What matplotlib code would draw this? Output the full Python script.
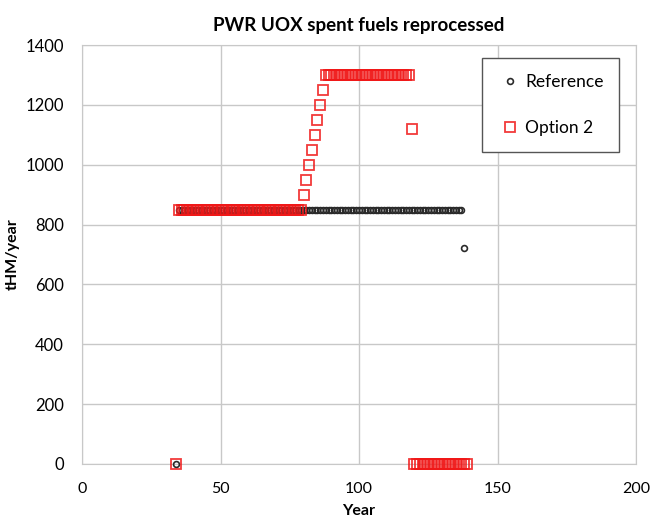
import matplotlib
matplotlib.use("Agg")
import matplotlib.pyplot as plt

plt.rcParams['font.family'] = ['Lato', 'DejaVu Sans']

# Reference scenario (tHM/year)
ref_years = list(range(34, 139))
ref_values = [0] + [850] * 103 + [722]

# Option 2 scenario (tHM/year)
opt_years = list(range(34, 140))
opt_values = ([0] + [850] * 45
              + [900, 950, 1000, 1050, 1100, 1150, 1200, 1250]
              + [1300] * 31 + [1120] + [0] * 20)

x_ticks = [0, 50, 100, 150, 200]
y_ticks = [0, 200, 400, 600, 800, 1000, 1200, 1400]

fig = plt.figure(figsize=(6.51, 5.23), dpi=100)
ax = fig.add_axes([82 / 651, 1 - 464 / 523, 554 / 651, 419 / 523])

ax.plot(ref_years, ref_values, ls="none", marker="o", ms=4.2, mfc="none",
        mec="#2a2a2a", mew=1.2, label="Reference", clip_on=False, zorder=3)
ax.plot(opt_years, opt_values, ls="none", marker="s", ms=6.5, mfc="none",
        mec="#f01818", mew=1.3, alpha=0.85, label="Option 2", clip_on=False, zorder=4)

ax.set_xlim(0, 200)
ax.set_ylim(0, 1400)
ax.set_xticks(x_ticks)
ax.set_yticks(y_ticks)
ax.tick_params(length=0, labelsize=12)
ax.tick_params(axis="y", pad=13)
ax.tick_params(axis="x", pad=13, labelsize=11.5)
ax.grid(True, color="#c8c8c8", lw=1)
ax.set_axisbelow(True)
for s in ax.spines.values():
    s.set_color("#c8c8c8")

ax.set_title("PWR UOX spent fuels reprocessed", fontsize=13.5, fontweight="bold", pad=10)
ax.set_xlabel("Year", fontsize=11.5, fontweight="bold", labelpad=6)
ax.set_ylabel("tHM/year", fontsize=11.5, fontweight="bold", labelpad=4)

leg = ax.legend(loc="upper right", bbox_to_anchor=(0.97, 0.969), borderaxespad=0,
                fontsize=12.5, fancybox=False, edgecolor="#555555", framealpha=1,
                labelspacing=1.75, borderpad=0.9, handletextpad=0.2,
                handlelength=1.4, markerscale=1.0)
leg.get_frame().set_linewidth(1.0)

fig.savefig("out.png", dpi=100)
